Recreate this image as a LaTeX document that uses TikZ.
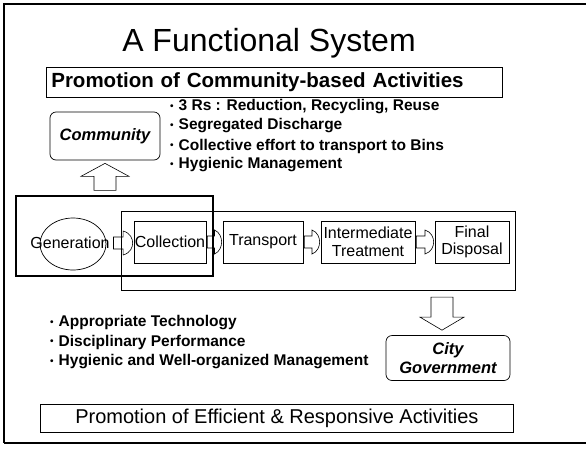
\documentclass[tikz,border=0pt]{standalone}
\usepackage{fontspec}
\setmainfont{Liberation Sans}
\usetikzlibrary{calc,shapes.geometric}
\newcommand{\fsz}[2]{\fontsize{#1}{#2}\selectfont}
\newcommand{\bul}{\raisebox{1.5pt}{\fsz{10}{10}\textbullet}\hspace{5pt}}
\newcommand{\flowarr}[2]{%
  \draw[blockarr] let \p1=(#1.east), \p2=(#2.west), \n1={0.5*(\x2-\x1)} in
    (\x1+1pt,\y1+6pt) -- (\x1+\n1,\y1+6pt) -- (\x1+\n1,\y1+12pt)
    .. controls (\x2-3pt,\y1+10pt) and (\x2-1pt,\y1+4pt) .. (\x2-1pt,\y1)
    .. controls (\x2-1pt,\y1-4pt) and (\x2-3pt,\y1-10pt) .. (\x1+\n1,\y1-12pt)
    -- (\x1+\n1,\y1-6pt) -- (\x1+1pt,\y1-6pt) -- cycle;}
\begin{document}
\begin{tikzpicture}[x=1pt,y=-1pt,
  thinbox/.style={draw, line width=0.7pt, inner sep=0pt, align=center},
  flowbox/.style={thinbox, minimum height=42pt, font=\fsz{16}{17.5}},
  actor/.style={thinbox, rounded corners=6pt, font=\fsz{16.5}{19}\bfseries\itshape},
  bullet/.style={anchor=west, inner sep=0pt, font=\fsz{15.5}{17}\bfseries},
  blockarr/.style={draw, line width=0.6pt},
  frameline/.style={line width=1.2pt},
]
\useasboundingbox (0,0) rectangle (586,448);
% page frame
\draw[frameline] (586,4) -- (4,4) -- (4,443);
\draw[line width=1.8pt] (4,443) -- (586,443);

% title
\node[inner sep=0pt, font=\fsz{32}{36}] (title) at (269,43) {A Functional System};

% top promotion box
\node[thinbox, minimum width=456pt, minimum height=30pt, anchor=north west,
      text width=446pt, align=left, font=\fsz{20.5}{23}\bfseries] (promotop) at (46,67)
      {Promotion of Community-based Activities};

% community box
\node[actor, minimum width=110pt, minimum height=48pt] (comm) at (105,136) {Community};

% top bullets
\node[bullet] (b1) at (170,107) {\bul 3 Rs : Reduction, Recycling, Reuse};
\node[bullet] (b2) at (170,126) {\bul Segregated Discharge};
\node[bullet] (b3) at (170,146) {\bul Collective effort to transport to Bins};
\node[bullet] (b4) at (170,165) {\bul Hygienic Management};

% flow row
\node[draw, ellipse, line width=0.7pt, minimum width=66pt, minimum height=52pt, inner sep=0pt] (genell) at (73,244) {};
\node[inner sep=0pt, font=\fsz{16}{17.5}] (gen) at (70,243) {Generation};
\node[flowbox, minimum width=72pt] (coll) at (170,242) {Collection};
\node[flowbox, minimum width=80pt] (trans) at (263,242) {Transport};
\node[flowbox, minimum width=94pt] (inter) at (368,242) {Intermediate\\Treatment};
\node[flowbox, minimum width=74pt] (final) at (472,242) {Final\\Disposal};

% grouping frames
\coordinate (thinNW) at (121,211);
\coordinate (thinSE) at (515,290);
\coordinate (thickNW) at (16,196);
\coordinate (thickSE) at (213,276);
\draw[line width=0.8pt] (thinNW) rectangle (thinSE);
\draw[line width=2.2pt] (thickNW) rectangle (thickSE);

% flow arrows
\path (gen.east) ++(2pt,0) coordinate (genR);
\node[inner sep=0pt] (genRn) at (genR) {};
\flowarr{genRn}{coll}
\flowarr{coll}{trans}
\flowarr{trans}{inter}
\flowarr{inter}{final}

% up arrow to community
\coordinate (upTip) at ($(comm.south)+(0,3)$);
\draw[blockarr] (upTip) -- ++(24,13) -- ++(-13,0) -- ++(0,14) -- ++(-22,0) -- ++(0,-14) -- ++(-13,0) -- cycle;

% bottom bullets
\node[bullet] (c1) at (50,323) {\bul Appropriate Technology};
\node[bullet] (c2) at (50,342) {\bul Disciplinary Performance};
\node[bullet] (c3) at (50,362) {\bul Hygienic and Well-organized Management};

% city government box
\node[actor, minimum width=124pt, minimum height=45pt] (city) at (448,358) {City\\Government};

% down arrow to city government
\coordinate (dnTip) at ($(city.north)+(-6,-5)$);
\draw[blockarr] (dnTip) -- ++(22,-13) -- ++(-11,0) -- ++(0,-20) -- ++(-22,0) -- ++(0,20) -- ++(-11,0) -- cycle;

% bottom promotion box
\node[thinbox, minimum width=473pt, minimum height=28pt, anchor=north west,
      font=\fsz{20}{23}] (promobot) at (40,404)
      {Promotion of Efficient \& Responsive Activities};
\end{tikzpicture}
\end{document}
